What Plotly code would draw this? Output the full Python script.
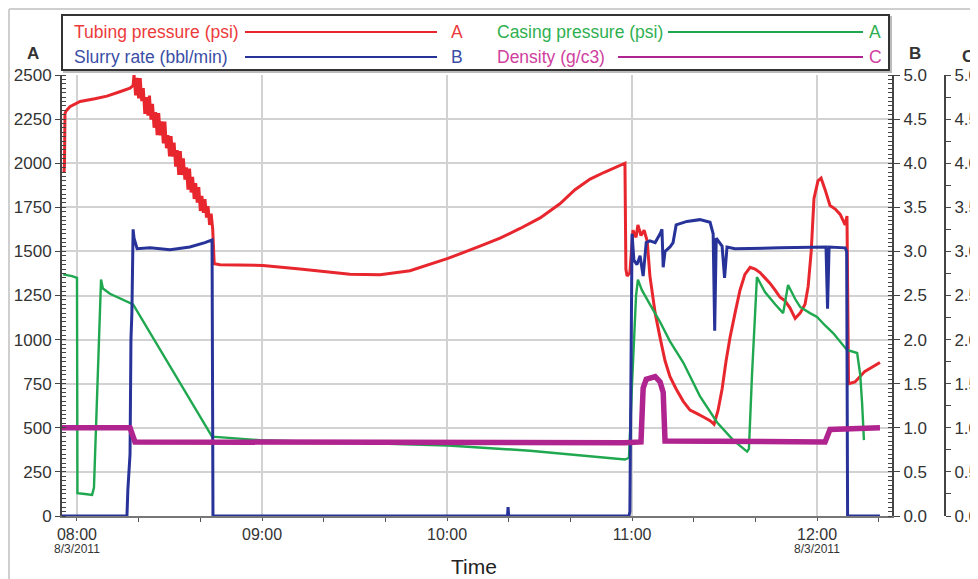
import pandas as pd
import plotly.graph_objects as go

BASE = pd.Timestamp("2011-08-03 08:00:00")

# ---------------- data (minutes after 08:00, values) ----------------
tubing_t = [-4.2, -4.05, -3.9, -3.6, -2.3, 1.0, 5.8, 9.7, 13.9, 17.2, 18.2,
            18.5, 19.0, 19.5, 20.0, 20.5, 21.0, 21.5, 22.0, 22.5, 23.0, 23.5, 24.0, 24.5, 25.0,
            25.5, 26.0, 26.5, 27.0, 27.5, 28.0, 28.5, 29.0, 29.5, 30.0, 30.5, 31.0, 31.5, 32.0,
            32.5, 33.0, 33.5, 34.0, 34.5, 35.0, 35.5, 36.0, 36.5, 37.0, 37.5, 38.0, 38.5, 39.0,
            39.5, 40.0, 40.5, 41.0, 41.5, 42.0, 42.5, 43.0, 43.5, 44.0,
            44.2, 44.5, 46.4, 60.3, 72.3, 88.5, 98.3, 108.0, 120.3, 130.7, 137.2, 143.7, 150.2,
            156.6, 161.5, 166.4, 171.2, 177.7,
            178.0, 178.4, 179.3, 180.3, 181.3, 181.9, 182.9, 183.9, 184.9, 185.8, 187.5, 189.1,
            190.7, 192.3, 194.3, 196.6, 198.8, 201.1, 203.3, 205.3, 206.6, 207.9, 209.2, 210.5,
            211.8, 213.4, 215.0, 216.6, 218.3, 219.9, 221.5, 223.1, 224.7, 226.4, 228.0, 229.6,
            231.2, 232.9, 234.5, 236.1, 237.1, 238.1, 239.0, 240.3, 241.3, 242.6, 244.2, 245.9,
            247.5, 249.1, 249.7, 250.2, 252.3, 255.5, 260.4]
tubing_p = [1950, 2000, 2280, 2295, 2320, 2350, 2365, 2380, 2405, 2425, 2440,
            2500, 2384, 2484, 2368, 2482, 2352, 2426, 2280, 2374, 2269, 2383, 2247, 2337, 2201,
            2290, 2159, 2284, 2158, 2237, 2112, 2236, 2085, 2159, 2039, 2153, 2037, 2117, 1981,
            2075, 1934, 2069, 1933, 2027, 1907, 1976, 1850, 1969, 1834, 1923, 1797, 1887, 1776,
            1865, 1729, 1814, 1718, 1797, 1692, 1756, 1650, 1714, 1629,
            1550, 1430, 1425, 1420, 1400, 1370, 1368, 1390, 1460, 1530, 1575, 1630, 1690,
            1770, 1850, 1910, 1950, 2000,
            1400, 1360, 1380, 1620, 1580, 1650, 1590, 1620, 1560, 1360, 1150, 1010,
            880, 790, 720, 650, 600, 580, 560, 540, 520, 600, 720, 880,
            1015, 1150, 1280, 1370, 1410, 1400, 1380, 1350, 1320, 1280, 1240, 1220,
            1180, 1120, 1150, 1200, 1300, 1500, 1800, 1900, 1915, 1850, 1760, 1740,
            1710, 1650, 1700, 750, 760, 820, 870]

casing_t = [-4.5, -1.6, 0.0, 0.15, 2.6, 4.9, 5.5, 7.8, 8.4, 10.7, 18.2, 43.8, 59.3, 120.3,
            146.9, 177.7, 179.0, 180.0, 181.3, 181.9, 183.2, 185.8, 189.1, 192.3, 196.6, 202.0,
            207.6, 212.8, 217.3, 217.9, 218.9, 220.5, 223.1, 226.4, 229.0, 230.6, 232.9, 234.5,
            237.7, 240.0, 242.6, 245.2, 249.7, 253.0, 254.0, 254.6, 255.2]
casing_p = [1370, 1360, 1350, 130, 125, 120, 160, 1340, 1290, 1260, 1200, 450, 430, 400,
            370, 320, 330, 750, 1250, 1340, 1280, 1200, 1100, 990, 870, 680,
            530, 430, 365, 380, 800, 1355, 1270, 1200, 1150, 1310, 1230, 1185,
            1150, 1128, 1080, 1037, 941, 924, 800, 640, 430]

slurry_t = [-4.9, 16.2, 16.5, 17.2, 17.5, 17.8, 18.2, 18.5, 19.5, 23.7, 30.2, 36.6, 41.5, 43.8,
            44.1, 139.6, 139.8, 140.0, 179.0, 179.3, 180.0, 180.6, 181.6, 182.6, 183.6, 184.6,
            185.8, 187.5, 189.1, 189.7, 190.1, 190.7, 192.3, 193.3, 194.3, 197.8, 202.0, 205.3,
            206.3, 206.8, 207.3, 209.2, 210.0, 210.8, 213.4, 228.0, 242.9, 243.4, 243.9, 249.1,
            249.6, 249.9, 260.4]
slurry_r = [0, 0, 0.3, 0.7, 2.0, 2.3, 3.25, 3.15, 3.03, 3.04, 3.02, 3.05, 3.10, 3.13,
            0, 0, 0.1, 0, 0, 0.05, 3.2, 2.9, 2.85, 2.95, 2.72, 3.1,
            3.12, 3.1, 3.2, 3.25, 2.82, 3.0, 3.05, 3.1, 3.3, 3.34, 3.36, 3.33,
            3.2, 2.1, 3.15, 3.06, 2.7, 3.05, 3.03, 3.04, 3.05, 2.35, 3.05, 3.04,
            3.0, 0, 0]

density_t = [-4.9, 17.2, 18.8, 177.7, 182.9, 183.6, 184.6, 187.5, 189.1, 190.1, 190.7,
             242.6, 244.2, 260.4]
density_v = [1.0, 1.0, 0.84, 0.83, 0.84, 1.45, 1.55, 1.58, 1.52, 1.4, 0.85,
             0.84, 0.98, 1.0]

x_tickvals_min = [0, 60, 120, 180, 240]
x_ticktext = ["08:00", "09:00", "10:00", "11:00", "12:00"]
date_label = "8/3/2011"
date_label_min = [0, 240]

y_ticks_a = list(range(0, 2501, 250))
y_ticks_bc = [0, 0.5, 1, 1.5, 2, 2.5, 3, 3.5, 4, 4.5, 5]
y_ticktext_bc = ["0.0", "0.5", "1.0", "1.5", "2.0", "2.5", "3.0", "3.5", "4.0", "4.5", "5.0"]

legend_labels = ["Tubing pressure (psi)", "Slurry rate (bbl/min)",
                 "Casing pressure (psi)", "Density (g/c3)"]
legend_axes = ["A", "B", "A", "C"]

# ---------------- helpers ----------------
def tt(mins):
    return BASE + pd.to_timedelta(mins, unit="min")

OFF = 8                      # page body margin
W, H = 978, 579
ML, MR, MT, MB = 54, 10, 67, 71
PW = W - ML - MR
PH = H - MT - MB
XDOM = (892 - OFF - ML) / PW

def px(sx):
    return (sx - OFF - ML) / PW

def py(sy):
    return (H - MB - (sy - OFF)) / PH

RED = "#e8262d"
GREEN = "#1fa84f"
BLUE = "#28339a"
MAG = "#b0248f"
AXC = "#444444"
GRID = "#d2d2d2"
TXC = "#333333"
FONT = "Liberation Sans, Arial, sans-serif"

fig = go.Figure()
fig.add_trace(go.Scatter(x=tt(tubing_t), y=tubing_p, mode="lines", name=legend_labels[0],
                         line=dict(color=RED, width=3, simplify=False), yaxis="y"))
fig.add_trace(go.Scatter(x=tt(casing_t), y=casing_p, mode="lines", name=legend_labels[2],
                         line=dict(color=GREEN, width=2.4, simplify=False), yaxis="y"))
fig.add_trace(go.Scatter(x=tt(slurry_t), y=slurry_r, mode="lines", name=legend_labels[1],
                         line=dict(color=BLUE, width=3, simplify=False), yaxis="y2"))
fig.add_trace(go.Scatter(x=tt(density_t), y=density_v, mode="lines", name=legend_labels[3],
                         line=dict(color=MAG, width=5.5, simplify=False), yaxis="y3"))

fig.update_layout(
    width=W, height=H,
    margin=dict(l=ML, r=MR, t=MT, b=MB, autoexpand=False),
    paper_bgcolor="white", plot_bgcolor="white",
    showlegend=False,
    font=dict(family=FONT, color=TXC),
    xaxis=dict(
        type="date", domain=[0, XDOM], automargin=False,
        range=[tt(-4.86), tt(264.3)],
        tickvals=[tt(m) for m in x_tickvals_min], ticktext=x_ticktext,
        tickfont=dict(size=16, color=TXC),
        showgrid=True, gridcolor=GRID, gridwidth=1.5,
        showline=True, linecolor="#777777", linewidth=2,
        ticks="outside", ticklen=3, tickcolor="#555555",
        minor=dict(tickvals=[tt(m) for m in [20, 40, 80, 100, 140, 160, 200, 220, 260]],
                   ticks="outside", ticklen=4, tickcolor="#555555", showgrid=False),
        zeroline=False,
    ),
    yaxis=dict(
        range=[0, 2500], tickvals=y_ticks_a, automargin=False,
        tickfont=dict(size=17, color=TXC),
        showgrid=True, gridcolor=GRID, gridwidth=1.5,
        showline=True, linecolor=AXC, linewidth=2,
        ticks="outside", ticklen=5, tickcolor=AXC,
        minor=dict(dtick=25, ticks="inside", ticklen=4, tickcolor=AXC, showgrid=False),
        zeroline=False,
    ),
    yaxis2=dict(
        range=[0, 5], tickvals=y_ticks_bc, ticktext=y_ticktext_bc,
        overlaying="y", side="right", anchor="x", automargin=False,
        tickfont=dict(size=17, color=TXC),
        showgrid=False, showline=True, linecolor=AXC, linewidth=2,
        ticks="outside", ticklen=6, tickcolor=AXC,
        minor=dict(dtick=0.05, ticks="inside", ticklen=4, tickcolor=AXC, showgrid=False),
        zeroline=False,
    ),
    yaxis3=dict(
        range=[0, 5], tickvals=y_ticks_bc, ticktext=y_ticktext_bc,
        overlaying="y", side="right", anchor="free", position=px(945), automargin=False,
        tickfont=dict(size=17, color=TXC),
        showgrid=False, showline=True, linecolor=AXC, linewidth=2,
        ticks="outside", ticklen=5, tickcolor=AXC,
        minor=dict(dtick=0.25, ticks="outside", ticklen=5, tickcolor=AXC, showgrid=False),
        zeroline=False,
    ),
)

shapes = []
# outer panel frame
shapes.append(dict(type="line", xref="paper", yref="paper", x0=px(9), x1=px(1000), y0=py(9), y1=py(9),
                   line=dict(color="#cfcfcf", width=2)))
shapes.append(dict(type="line", xref="paper", yref="paper", x0=px(9), x1=px(9), y0=py(9), y1=py(600),
                   line=dict(color="#cfcfcf", width=2)))
# legend box shadow + box
shapes.append(dict(type="rect", xref="paper", yref="paper", x0=px(64), x1=px(891), y0=py(17), y1=py(72),
                   line=dict(color="#bbbbbb", width=2), fillcolor="#bbbbbb", layer="above"))
shapes.append(dict(type="rect", xref="paper", yref="paper", x0=px(62), x1=px(889), y0=py(15), y1=py(70),
                   line=dict(color="#333333", width=2), fillcolor="white", layer="above"))
# legend sample lines
leg_lines = [(245, 437, 32, RED), (245, 437, 57, BLUE), (668, 863, 32, GREEN), (618, 863, 57, MAG)]
for x0, x1, yy, c in leg_lines:
    shapes.append(dict(type="line", xref="paper", yref="paper", x0=px(x0), x1=px(x1), y0=py(yy), y1=py(yy),
                       line=dict(color=c, width=2), layer="above"))

TXT_RED, TXT_BLUE, TXT_GREEN, TXT_MAG = "#ec3a3a", "#3a4ea6", "#2fb050", "#cf3f9e"
ann = []
leg_text = [(72, 32, legend_labels[0], TXT_RED), (72, 57, legend_labels[1], TXT_BLUE),
            (495, 32, legend_labels[2], TXT_GREEN), (495, 57, legend_labels[3], TXT_MAG)]
for xx, yy, s, c in leg_text:
    ann.append(dict(xref="paper", yref="paper", x=px(xx), y=py(yy), text=s, showarrow=False,
                    xanchor="left", yanchor="middle", font=dict(size=17.5, color=c, family=FONT)))
leg_ax = [(457, 32, legend_axes[0], TXT_RED), (457, 57, legend_axes[1], TXT_BLUE),
          (875, 32, legend_axes[2], TXT_GREEN), (875, 57, legend_axes[3], TXT_MAG)]
for xx, yy, s, c in leg_ax:
    ann.append(dict(xref="paper", yref="paper", x=px(xx), y=py(yy), text=s, showarrow=False,
                    xanchor="center", yanchor="middle", font=dict(size=17.5, color=c, family=FONT)))
# axis titles
for xx, yy, s in [(33, 53, "A"), (915, 54, "B"), (968, 57, "C")]:
    ann.append(dict(xref="paper", yref="paper", x=px(xx), y=py(yy), text="<b>" + s + "</b>",
                    showarrow=False, xanchor="center", yanchor="middle",
                    font=dict(size=17, color=TXC, family=FONT)))
# date sub-labels under the first and last hour ticks
for m in date_label_min:
    ann.append(dict(xref="x", yref="paper", x=tt(m), y=py(549), text=date_label, showarrow=False,
                    xanchor="center", yanchor="middle", font=dict(size=12, color=TXC, family=FONT)))
# x axis title
ann.append(dict(xref="paper", yref="paper", x=px(474), y=py(566), text="Time", showarrow=False,
                xanchor="center", yanchor="middle", font=dict(size=21, color="#222222", family=FONT)))

fig.update_layout(shapes=shapes, annotations=ann)
fig.write_html("out.html")
